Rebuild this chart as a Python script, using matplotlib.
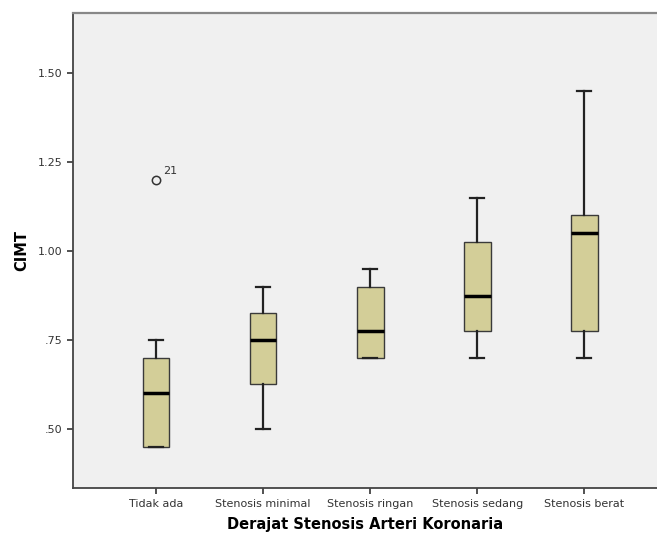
import numpy as np
import matplotlib.pyplot as plt

groups = ["Tidak ada", "Stenosis minimal", "Stenosis ringan", "Stenosis sedang", "Stenosis berat"]
whislo = [0.45, 0.50, 0.70, 0.70, 0.70]
q1 = [0.45, 0.625, 0.70, 0.775, 0.775]
med = [0.60, 0.75, 0.775, 0.875, 1.05]
q3 = [0.70, 0.825, 0.90, 1.025, 1.10]
whishi = [0.75, 0.90, 0.95, 1.15, 1.45]
fliers = [[1.20], [], [], [], []]
flier_ids = [["21"], [], [], [], []]

yticks = [0.50, 0.75, 1.00, 1.25, 1.50]
ytick_labels = [".50", ".75", "1.00", "1.25", "1.50"]

fig = plt.figure(figsize=(6.57, 5.36), dpi=100)
ax = fig.add_axes([73/657, 1 - 488/536, 1 - 73/657, (488 - 13)/536])
ax.set_facecolor("#f0f0f0")

stats = []
for i in range(len(groups)):
    stats.append(dict(whislo=whislo[i], q1=q1[i], med=med[i], q3=q3[i],
                      whishi=whishi[i], fliers=fliers[i], label=groups[i]))

pos = np.arange(len(groups))
ax.bxp(stats, positions=pos, widths=0.25, patch_artist=True,
       boxprops=dict(facecolor="#d3ce98", edgecolor="#3a3a3a", linewidth=1.0),
       medianprops=dict(color="black", linewidth=2.5),
       whiskerprops=dict(color="#222222", linewidth=1.6),
       capprops=dict(color="#222222", linewidth=1.6),
       flierprops=dict(marker="o", markerfacecolor="none", markeredgecolor="#333333",
                       markersize=6, markeredgewidth=1.1),
       capwidths=0.13)

for i in range(len(groups)):
    for v, lab in zip(fliers[i], flier_ids[i]):
        ax.annotate(lab, (pos[i], v), xytext=(5, 4), textcoords="offset points",
                    fontsize=8, color="#333333")

ax.set_xlim(-0.776, 4.68)
ax.set_ylim(0.334, 1.669)
ax.set_yticks(yticks)
ax.set_yticklabels(ytick_labels)
ax.set_xticks(pos)
ax.set_xticklabels(groups)
ax.tick_params(axis="both", labelsize=8, colors="#333333", length=4, width=1.2)
ax.tick_params(axis="x", pad=4)

for s in ["left", "bottom"]:
    ax.spines[s].set_color("#444444")
    ax.spines[s].set_linewidth(1.3)
ax.spines["top"].set_color("#888888")
ax.spines["top"].set_linewidth(1.6)
ax.spines["right"].set_visible(False)

ax.set_ylabel("CIMT", fontsize=10.5, fontweight="bold", labelpad=6)
ax.set_xlabel("Derajat Stenosis Arteri Koronaria", fontsize=10.5, fontweight="bold", labelpad=6)

fig.savefig("out.png", dpi=100)
